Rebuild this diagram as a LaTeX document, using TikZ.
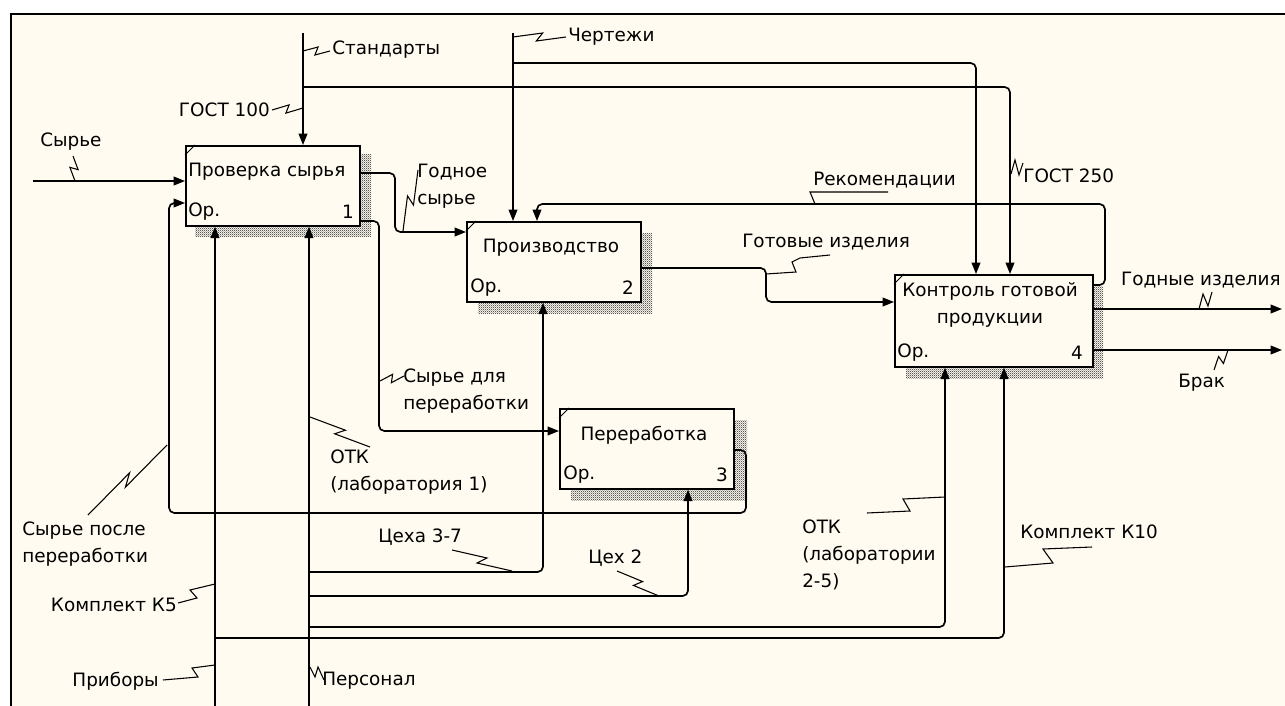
\documentclass[tikz,border=0pt]{standalone}
\usepackage{fontspec}
\setmainfont{DejaVu Sans}
\usetikzlibrary{patterns,calc,arrows.meta}
\definecolor{bg}{RGB}{255,251,240}
\pgfdeclarepatternformonly{finecheck}{\pgfpointorigin}{\pgfpoint{1.6pt}{1.6pt}}{\pgfpoint{1.6pt}{1.6pt}}{%
  \pgfpathrectangle{\pgfpointorigin}{\pgfpoint{0.8pt}{0.8pt}}%
  \pgfpathrectangle{\pgfpoint{0.8pt}{0.8pt}}{\pgfpoint{0.8pt}{0.8pt}}%
  \pgfusepath{fill}}
\newcommand\zigz[2]{\draw[sq] (#1) -- ($(#1)!0.56!(#2)!3pt!90:(#2)$) -- ($(#1)!0.44!(#2)!3pt!-90:(#2)$) -- (#2);}
\begin{document}
\begin{tikzpicture}[x=0.75pt,y=-0.75pt,
  every node/.style={font=\fontsize{13.8}{20}\selectfont, inner sep=0pt},
  flow/.style={line width=1.25pt, rounded corners=4pt},
  arr/.style={flow, -{Triangle[length=8.5pt,width=6.5pt]}},
  sq/.style={line width=0.8pt},
  boxn/.style={draw, line width=1.25pt, fill=bg, anchor=north west, minimum width={174*0.75pt}, minimum height={80*0.75pt}},
  shad/.style={pattern=finecheck, pattern color=black!65},
  lbl/.style={anchor=west, align=left},
  lblr/.style={anchor=east, align=right},
]
\useasboundingbox (0,0) rectangle (1285,706);
\fill[white] (0,0) rectangle (1285,706);
\fill[bg] (11,14) rectangle (1285,706);
\draw[line width=2.2pt] (11,706) -- (11,14) -- (1285,14);

% shadows
\fill[shad] (195,155) rectangle (371,236);
\fill[shad] (478,233) rectangle (652,313);
\fill[shad] (571,420) rectangle (747,500);
\fill[shad] (906,286) rectangle (1103,378);

% boxes
\node[boxn] (b1) at (185,145) {};
\node[boxn] (b2) at (466,221) {};
\node[boxn] (b3) at (559,408) {};
\node[boxn, minimum width={198*0.75pt}, minimum height={92*0.75pt}] (b4) at (894,274) {};
\foreach \b in {b1,b2,b3,b4}{\draw[line width=0.7pt] ($(\b.north west)+(0,10)$) -- ($(\b.north west)+(10,0)$);}

% box texts
\node[lbl] (t1) at (188,172) {Проверка сырья};
\node[lbl] (o1) at (188,212) {Ор.};
\node[anchor=east] (n1) at (354,212) {1};
\node (t2) at (551,248) {Производство};
\node[lbl] (o2) at (470,288) {Ор.};
\node[anchor=east] (n2) at (634,288) {2};
\node (t3) at (644,435) {Переработка};
\node[lbl] (o3) at (563,475) {Ор.};
\node[anchor=east] (n3) at (728,475) {3};
\node[align=center] (t4) at (990,305) {Контроль готовой\\продукции};
\node[lbl] (o4) at (897,353) {Ор.};
\node[anchor=east] (n4) at (1083,353) {4};

% coordinates of free ends
\coordinate (inSyr) at (33,181);
\coordinate (inStd) at (303,33);
\coordinate (jStd) at (303,87);
\coordinate (inCht) at (513,33);
\coordinate (jCht) at (513,63);
\coordinate (inPri) at (215,706);
\coordinate (jPri) at (215,638);
\coordinate (inPer) at (309,706);
\coordinate (jPer1) at (309,572);
\coordinate (jPer2) at (309,596);
\coordinate (jPer3) at (309,627);
\coordinate (outGod) at (1282,309);
\coordinate (outBrak) at (1282,350);

% connectors
\draw[arr] (inSyr) -- (b1.west |- inSyr);
\draw[arr] (b3.east |- 0,450) -- (746,450) -- (746,513) -- (169,513) -- (169,203) -- (b1.west |- 0,203);
\draw[arr] (inStd) -- (b1.north -| inStd);
\draw[arr] (jStd) -- (1010,87) -- (b4.north -| 1010,0);
\draw[arr] (inCht) -- (b2.north -| inCht);
\draw[arr] (jCht) -- (976,63) -- (b4.north -| 976,0);
\draw[arr] (b4.east |- 0,285) -- (1105,285) -- (1105,204) -- (537,204) -- (b2.north -| 537,0);
\draw[arr] (b1.east |- 0,173) -- (395,173) -- (395,232) -- (b2.west |- 0,232);
\draw[arr] (b1.east |- 0,221) -- (379,221) -- (379,431) -- (b3.west |- 0,431);
\draw[arr] (b2.east |- 0,268) -- (766,268) -- (766,302) -- (b4.west |- 0,302);
\draw[arr] (b4.east |- outGod) -- (outGod);
\draw[arr] (b4.east |- outBrak) -- (outBrak);
\draw[arr] (inPri) -- (b1.south -| inPri);
\draw[arr] (jPri) -- (1004,638) -- (b4.south -| 1004,0);
\draw[arr] (inPer) -- (b1.south -| inPer);
\draw[arr] (jPer1) -- (543,572) -- (b2.south -| 543,0);
\draw[arr] (jPer2) -- (688,596) -- (b3.south -| 688,0);
\draw[arr] (jPer3) -- (945,627) -- (b4.south -| 945,0);

% labels
\node[lbl] (lSyr) at (40,142) {Сырье};
\node[lbl] (lStd) at (332,50) {Стандарты};
\node[lblr] (lG100) at (270,110) {ГОСТ 100};
\node[lbl] (lCht) at (568,37) {Чертежи};
\node[lbl] (lGs) at (417,186) {Годное\\сырье};
\node[lbl] (lRek) at (813,180) {Рекомендации};
\node[lbl] (lG250) at (1023,176) {ГОСТ 250};
\node[lbl] (lGot) at (742,242) {Готовые изделия};
\node[lblr] (lGodn) at (1281,280) {Годные изделия};
\node[lbl] (lBrak) at (1178,383) {Брак};
\node[lbl] (lSdp) at (403,391) {Сырье для\\переработки};
\node[lbl] (lOtk1) at (330,472) {ОТК\\(лаборатория 1)};
\node[lbl] (lSpp) at (22,544) {Сырье после\\переработки};
\node[lbl] (lC37) at (378,537) {Цеха 3-7};
\node[lbl] (lC2) at (588,558) {Цех 2};
\node[lbl] (lOtk2) at (802,555) {ОТК\\(лаборатории\\2-5)};
\node[lbl] (lK10) at (1020,532) {Комплект К10};
\node[lblr] (lK5) at (177,605) {Комплект К5};
\node[lblr] (lPri) at (159,681) {Приборы};
\node[lbl] (lPer) at (322,681) {Персонал};

% squiggles
\zigz{75,181}{73,156}
\zigz{303,51}{330,51}
\zigz{303,108}{272,110}
\zigz{513,37}{566,37}
\draw[sq] (1011,174) -- (1015,160) -- (1019,175) -- (1023,163);
\zigz{403,231}{418,170}
\draw[sq] (815,204) -- (810,192) -- (888,192);
\draw[sq] (766,274) -- (796,272) -- (792,262) -- (800,258) -- (830,255);
\draw[sq] (1199,309) -- (1203,294) -- (1208,306) -- (1212,292);
\zigz{1228,350}{1214,370}
\zigz{88,515}{167,445}
\zigz{380,381}{404,376}
\zigz{310,417}{370,447}
\zigz{452,550}{512,571}
\zigz{617,571}{659,596}
\draw[sq] (867,513) -- (910,511) -- (903,499) -- (945,497);
\draw[sq] (1005,567) -- (1053,563) -- (1043,549) -- (1092,547);
\draw[sq] (178,603) -- (197,598) -- (190,590) -- (215,584);
\draw[sq] (163,680) -- (198,677) -- (192,668) -- (215,665);
\draw[sq] (310,667) -- (315,677) -- (318,667) -- (324,680);
\end{tikzpicture}
\end{document}
